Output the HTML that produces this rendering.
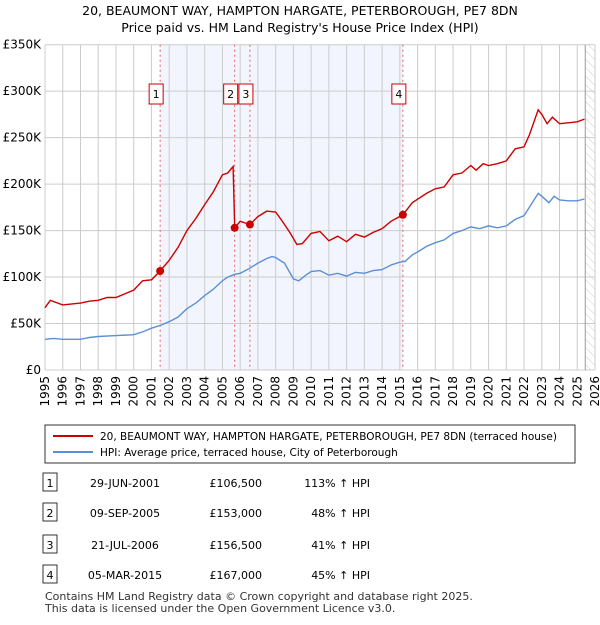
<!DOCTYPE html>
<html><head><meta charset="utf-8"><style>
body{margin:0;background:#fff;font-family:"Liberation Sans","DejaVu Sans",sans-serif;}
svg text{font-family:"DejaVu Sans","Liberation Sans",sans-serif;}
</style></head><body>
<svg id="chart" width="600" height="620" viewBox="0 0 600 620" xmlns="http://www.w3.org/2000/svg">
<defs><pattern id="hatch" width="6" height="6" patternUnits="userSpaceOnUse" patternTransform="rotate(-45)"><line x1="0" y1="0" x2="0" y2="6" stroke="#ccc" stroke-width="1"/></pattern></defs>
<text x="300" y="15" text-anchor="middle" font-size="12.5" fill="#000">20, BEAUMONT WAY, HAMPTON HARGATE, PETERBOROUGH, PE7 8DN</text>
<text x="300" y="32" text-anchor="middle" font-size="12.5" fill="#000">Price paid vs. HM Land Registry's House Price Index (HPI)</text>
<g id="plot"></g>
<rect x="45" y="425" width="530" height="38" fill="#fff" stroke="#333"/>
<line x1="53" y1="436" x2="93" y2="436" stroke="#cc0000" stroke-width="2"/>
<text x="100" y="440" font-size="10.5">20, BEAUMONT WAY, HAMPTON HARGATE, PETERBOROUGH, PE7 8DN (terraced house)</text>
<line x1="53" y1="452" x2="93" y2="452" stroke="#5b8fd6" stroke-width="2"/>
<text x="100" y="456" font-size="10.5">HPI: Average price, terraced house, City of Peterborough</text>
<g id="table" font-size="11"></g>
<text x="45" y="600" font-size="11" fill="#333">Contains HM Land Registry data © Crown copyright and database right 2025.</text>
<text x="45" y="612" font-size="11" fill="#333">This data is licensed under the Open Government Licence v3.0.</text>
</svg>
<script>
const hpiYears=[1995,1995.5,1996,1997,1997.5,1998,1999,2000,2000.5,2001,2001.5,2002,2002.5,2003,2003.5,2004,2004.5,2005,2005.3,2005.7,2006,2006.5,2007,2007.5,2007.8,2008,2008.5,2009,2009.3,2009.7,2010,2010.5,2011,2011.5,2012,2012.5,2013,2013.5,2014,2014.5,2015,2015.3,2015.7,2016,2016.5,2017,2017.5,2018,2018.5,2019,2019.5,2020,2020.5,2021,2021.5,2022,2022.3,2022.8,2023,2023.4,2023.7,2024,2024.5,2025,2025.4];
const hpiValues=[33,34,33,33,35,36,37,38,41,45,48,52,57,66,72,80,87,96,100,103,104,109,115,120,122,121,115,98,96,102,106,107,102,104,101,105,104,107,108,113,116,117,124,127,133,137,140,147,150,154,152,155,153,155,162,166,175,190,187,180,187,183,182,182,184];
const priceYears=[1995,1995.3,1996,1997,1997.5,1998,1998.5,1999,2000,2000.5,2001,2001.49,2002,2002.5,2003,2003.5,2004,2004.5,2005,2005.3,2005.6,2005.69,2006,2006.55,2007,2007.5,2008,2008.3,2008.8,2009.2,2009.5,2010,2010.5,2011,2011.5,2012,2012.5,2013,2013.5,2014,2014.5,2015.17,2015.7,2016.5,2017,2017.5,2018,2018.5,2019,2019.3,2019.7,2020,2020.5,2021,2021.5,2022,2022.3,2022.8,2023,2023.3,2023.6,2024,2024.5,2025,2025.4];
const priceValues=[67,75,70,72,74,75,78,78,86,96,97,106.5,118,132,150,163,178,192,210,212,219,153,160,156.5,165,171,170,162,148,135,136,147,149,139,144,138,146,143,148,152,160,167,180,190,195,197,210,212,220,215,222,220,222,225,238,240,253,280,275,265,272,265,266,267,270];
const saleLabels=["1","2","3","4"];
const saleYears=[2001.49,2005.69,2006.55,2015.17];
const saleValues=[106.5,153,156.5,167];
const saleDates=["29-JUN-2001","09-SEP-2005","21-JUL-2006","05-MAR-2015"];
const salePrices=["£106,500","£153,000","£156,500","£167,000"];
const saleHpi=["113% ↑ HPI","48% ↑ HPI","41% ↑ HPI","45% ↑ HPI"];
const yTicks=[0,50,100,150,200,250,300,350];
const yTickLabels=["£0","£50K","£100K","£150K","£200K","£250K","£300K","£350K"];
const xTicks=[];for(let y=1995;y<=2026;y++)xTicks.push(y);

const NS="http://www.w3.org/2000/svg";
const X0=45,X1=595,Y0=370,Y1=44.7;
const xs=v=>X0+(v-1995)/31*(X1-X0);
const ys=v=>Y0-v/350*(Y0-Y1);
const plot=document.getElementById('plot');
function mk(tag,attrs,parent){const e=document.createElementNS(NS,tag);for(const k in attrs)e.setAttribute(k,attrs[k]);(parent||plot).appendChild(e);return e;}

let r=mk('rect',{x:xs(2001.49),y:Y1,width:xs(2015.17)-xs(2001.49),height:Y0-Y1,fill:'#eef2fc',opacity:0.75});


r=mk('rect',{x:xs(2025.45),y:Y1,width:X1-xs(2025.45),height:Y0-Y1,fill:'url(#hatch)'});


xTicks.forEach(t=>{const l=mk('line',{x1:xs(t),x2:xs(t),y1:Y1,y2:Y0,stroke:'#ccc','stroke-width':1});


const tx=mk('text',{x:0,y:0,'font-size':12,'text-anchor':'end',transform:`translate(${xs(t)+4},${Y0+6}) rotate(-90)`});tx.textContent=t;

});
yTicks.forEach((t,i)=>{const l=mk('line',{x1:X0,x2:X1,y1:ys(t),y2:ys(t),stroke:'#ccc','stroke-width':1});


const tx=mk('text',{x:41,y:ys(t)+4,'font-size':12,'text-anchor':'end'});tx.textContent=yTickLabels[i];

});
let ln=mk('line',{x1:xs(2025.45),x2:xs(2025.45),y1:Y1,y2:Y0,stroke:'#999'});


saleYears.forEach((y,i)=>{const l=mk('line',{x1:xs(y),x2:xs(y),y1:Y1,y2:Y0,stroke:'#e86060','stroke-dasharray':'2,3'});


const bx=xs(y)-4;
const b=mk('rect',{x:bx-7,y:84,width:14,height:20,fill:'#fff',stroke:'#cc0000'});


const t=mk('text',{x:bx,y:98,'font-size':11,'text-anchor':'middle'});t.textContent=saleLabels[i];

});
function path(xv,yv,col,name){const d=xv.map((x,i)=>(i?'L':'M')+xs(x).toFixed(1)+','+ys(yv[i]).toFixed(1)).join('');
const p=mk('path',{d:d,fill:'none',stroke:col,'stroke-width':1.4});

}
path(hpiYears,hpiValues,'#5b8fd6','hpi-line');
path(priceYears,priceValues,'#cc0000','price-line');
saleYears.forEach((y,i)=>{const c=mk('circle',{cx:xs(y),cy:ys(saleValues[i]),r:4,fill:'#cc0000'});

});
const tb=document.getElementById('table');
const rowsY=[483,513,545,575];
rowsY.forEach((ry,i)=>{const b=mk('rect',{x:43,y:ry-10,width:14,height:18,fill:'#fff',stroke:'#333'},tb);


const cells=[[50,saleLabels[i],'middle'],[125,saleDates[i],'middle'],[262,salePrices[i],'end'],[370,saleHpi[i],'end']];
cells.forEach(c=>{const t=mk('text',{x:c[0],y:ry+4,'text-anchor':c[2]},tb);t.textContent=c[1];

});});
</script>
</body></html>
